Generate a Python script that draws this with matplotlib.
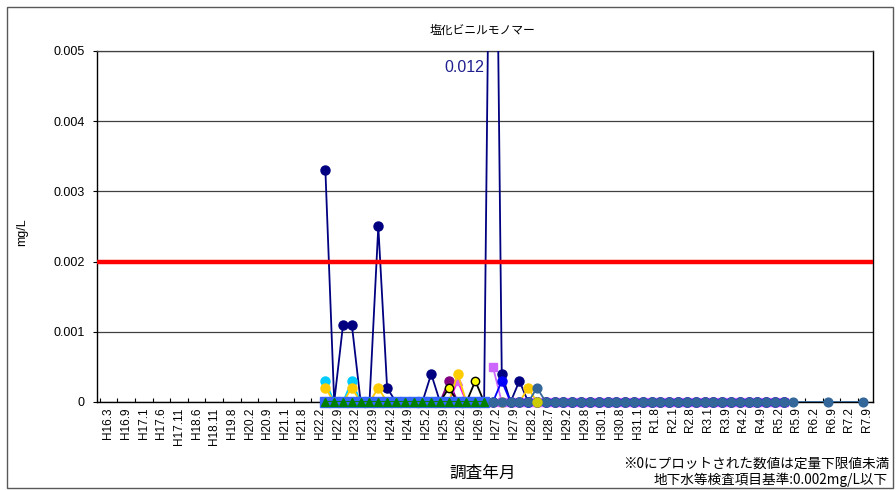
import numpy as np
import matplotlib
matplotlib.use('Agg')
import matplotlib.pyplot as plt
from matplotlib.patches import Rectangle

plt.rcParams['font.family'] = ['Liberation Sans', 'Noto Sans CJK JP']

# survey dates: 88 categories, every second one carries a label
n_dates = 88
tick_labels = ['H16.3', 'H16.9', 'H17.1', 'H17.6', 'H17.11', 'H18.6', 'H18.11', 'H19.8',
               'H20.2', 'H20.9', 'H21.1', 'H21.8', 'H22.2', 'H22.9', 'H23.2', 'H23.9',
               'H24.2', 'H24.9', 'H25.2', 'H25.9', 'H26.2', 'H26.9', 'H27.2', 'H27.9',
               'H28.2', 'H28.7', 'H29.2', 'H29.8', 'H30.1', 'H30.8', 'H31.1', 'R1.8',
               'R2.1', 'R2.8', 'R3.1', 'R3.9', 'R4.2', 'R4.9', 'R5.2', 'R5.9',
               'R6.2', 'R6.9', 'R7.2', 'R7.9']

# each well: index of first survey, then values (mg/L), None = not surveyed
navy_start = 26
navy_vals = [0.0033, 0, 0.0011, 0.0011, 0, 0, 0.0025, 0.0002, 0, 0,
             0, 0, 0.0004, 0, 0, 0, 0, 0, 0, 0.012,
             0.0004, 0, 0.0003, 0, 0, 0, 0, 0, 0, 0,
             0, 0, 0, 0, 0, 0, 0, 0, 0, 0,
             0, 0, 0, 0, 0, 0, 0, 0, 0, 0,
             0, 0, 0]

cyan_start = 26
cyan_vals = [0.0003, 0, 0, 0.0003, 0, 0, 0, 0, 0, 0,
             0, 0, 0, 0, 0, 0, 0, 0, 0]

gold_start = 26
gold_vals = [0.0002, 0, 0, 0.0002, 0, 0, 0.0002, 0, 0, 0,
             0, 0, 0, 0, 0, 0.0004, 0, 0, 0, 0,
             0, 0, 0, 0.0002, 0, 0, 0, 0, 0, 0,
             0, 0, 0, 0, 0, 0, 0, 0, 0, 0,
             0, 0, 0, 0, 0, 0, 0, 0, 0, 0,
             0, 0, 0]

purple_start = 26
purple_vals = [0, 0, 0, 0, 0, 0, 0, 0, 0, 0,
               0, 0, 0, 0, 0.0003, 0, 0, 0, 0]

yellow_start = 26
yellow_vals = [0, 0, 0, 0, 0, 0, 0, 0, 0, 0,
               0, 0, 0, 0, 0.0002, 0, 0, 0.0003, 0]

magenta_start = 26
magenta_vals = [0, 0, 0, 0, 0, 0, 0, 0, 0, 0,
                0, 0, 0, 0, 0, 0.0003, 0, 0, 0, 0,
                0, 0, 0, 0, 0, 0, 0, 0, 0, 0,
                0, 0, 0, 0, 0, 0, 0, 0, 0, 0,
                0, 0, 0, 0, 0, 0, 0, 0, 0, 0,
                0, 0, 0]

violet_start = 45
violet_vals = [0.0005, 0, 0, 0, 0, 0, 0, 0, 0, 0,
               0, 0, 0, 0, 0, 0, 0, 0, 0, 0,
               0, 0, 0, 0, 0, 0, 0, 0, 0, 0,
               0, 0, 0, 0]

blue_start = 45
blue_vals = [0, 0.0003, 0, 0, 0, 0, 0, 0, 0, 0,
             0, 0, 0, 0, 0, 0, 0, 0, 0, 0,
             0, 0, 0, 0, 0, 0, 0, 0, 0, 0,
             0, 0, 0, 0]

royal_start = 26
royal_vals = [0, 0, 0, 0, 0, 0, 0, 0, 0, 0,
              0, 0, 0, 0, 0, 0, 0, 0, 0]

green_start = 26
green_vals = [0, 0, 0, 0, 0, 0, 0, 0, 0, 0,
              0, 0, 0, 0, 0, 0, 0, 0, 0]

steel_start = 45
steel_vals = [0, 0, 0, 0, 0, 0.0002, 0, 0, 0, 0,
              0, 0, 0, 0, 0, 0, 0, 0, 0, 0,
              0, 0, 0, 0, 0, 0, 0, 0, 0, 0,
              0, 0, 0, 0, 0, None, None, None, 0, None,
              None, None, 0]

olive_start = 50
olive_vals = [0]

standard = 0.002

# (start, values, line colour, marker, face, edge, marker size)
series = [
    (navy_start, navy_vals, '#000080', 'o', '#000080', '#000080', 6.5),
    (cyan_start, cyan_vals, '#00CCFF', 'o', '#00CCFF', '#00CCFF', 6.5),
    (purple_start, purple_vals, '#800080', 'o', '#800080', '#800080', 6.5),
    (magenta_start, magenta_vals, '#FF00FF', '^', '#DD66EE', '#DD66EE', 6),
    (gold_start, gold_vals, '#FFCC00', 'o', '#FFCC00', '#FFCC00', 6.5),
    (yellow_start, yellow_vals, '#000000', 'o', '#FFFF00', '#000000', 6),
    (violet_start, violet_vals, '#CC66FF', 's', '#CC66FF', '#CC66FF', 6),
    (blue_start, blue_vals, '#0000FF', 'o', '#0000FF', '#0000FF', 6.5),
    (royal_start, royal_vals, '#3366FF', 's', '#3366FF', '#3366FF', 6.5),
    (green_start, green_vals, '#008000', '^', '#008000', '#008000', 6),
    (steel_start, steel_vals, '#336699', 'o', '#336699', '#336699', 6.3),
    (olive_start, olive_vals, '#CCCC00', 'o', '#CCCC00', '#CCCC00', 6.5),
]

fig = plt.figure(figsize=(8.96, 4.90), dpi=100)
ax = fig.add_axes([97 / 896, 1 - 402 / 490, 776 / 896, 351 / 490])

for k, (start, vals, lc, mk, fc, ec, ms) in enumerate(series):
    xs = [start + i for i, v in enumerate(vals) if v is not None]
    ys = [v for v in vals if v is not None]
    z = 3 + k * 0.1
    ax.plot(xs, ys, color=lc, lw=1.3, zorder=z)
    ax.plot(xs, ys, ls='none', marker=mk, ms=ms, mfc=fc, mec=ec, mew=1.0,
            zorder=z + 0.05, clip_on=False)

ax.axhline(standard, color='#FF0000', lw=3.2, zorder=8)

ax.set_xlim(0.1, n_dates + 0.1)
ax.set_ylim(0, 0.005)

# labels and tick marks sit a little right of the survey points
label_shift = 0.4
ax.set_xticks(np.arange(1, n_dates, 2) + label_shift)
ax.set_xticklabels(tick_labels, rotation=90, fontsize=8.5)
ax.set_xticks(np.arange(0, n_dates) + label_shift, minor=True)
ax.tick_params(axis='x', which='major', length=0, pad=4)
ax.tick_params(axis='x', which='minor', direction='in', length=3, width=0.8, color='black')

ax.set_yticks([0, 0.001, 0.002, 0.003, 0.004, 0.005])
ax.set_yticklabels(['0', '0.001', '0.002', '0.003', '0.004', '0.005'], fontsize=9)
ax.tick_params(axis='y', direction='out', length=3, width=0.8, pad=6)
ax.yaxis.grid(True, color='#404040', lw=0.9)
ax.set_axisbelow(True)

for side in ['left', 'bottom', 'right']:
    ax.spines[side].set_color('black')
    ax.spines[side].set_linewidth(1.0)
ax.spines['top'].set_color('#404040')
ax.spines['top'].set_linewidth(0.9)

fig.text(464 / 896, 1 - 68 / 490, '0.012', color='#1F1F8F', fontsize=11.5,
         ha='center', va='center')

fig.text(482 / 896, 1 - 30 / 490, '塩化ビニルモノマー', fontsize=8.5,
         ha='center', va='center', family=['Noto Sans CJK JP'])
fig.text(483 / 896, 1 - 473 / 490, '調査年月', fontsize=12,
         ha='center', va='center', family=['Noto Sans CJK JP'])
fig.text(22 / 896, 1 - 232 / 490, 'mg/L', fontsize=9, rotation=90,
         ha='center', va='center')
fig.text(889 / 896, 1 - 464 / 490, '※0にプロットされた数値は定量下限値未満', fontsize=9.8,
         ha='right', va='center', family=['Noto Sans CJK JP', 'DejaVu Sans'])
fig.text(888 / 896, 1 - 480 / 490, '地下水等検査項目基準:0.002mg/L以下', fontsize=9.8,
         ha='right', va='center', family=['Noto Sans CJK JP', 'DejaVu Sans'])

fig.patches.append(Rectangle((7 / 896, 2 / 490), 886 / 896, 481 / 490,
                             transform=fig.transFigure, fill=False,
                             edgecolor='#595959', lw=1.0))

fig.savefig('out.png', dpi=100)
